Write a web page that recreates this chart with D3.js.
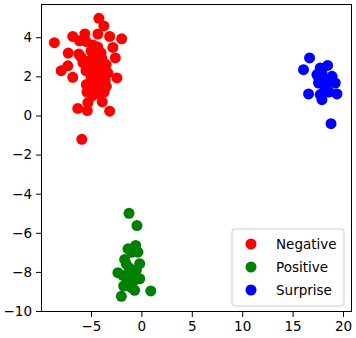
<!DOCTYPE html>
<html>
<head>
<meta charset="utf-8">
<script src="https://cdn.jsdelivr.net/npm/d3@7"></script>
<style>
  body { margin: 0; background: #fff; }
  text { font-family: "DejaVu Sans", sans-serif; }
</style>
</head>
<body>
<div id="chart"></div>
<script>
// data
const seriesNames = ["Negative", "Positive", "Surprise"]
const seriesColors = ["red", "green", "blue"]

const negativeX = [-4.22, -3.72, -8.63, -6.81, -5.61, -4.32, -3.15, -1.96, -6.14, -5.47, -4.32, -2.83, -7.26, -6.21,
  -2.59, -7.30, -7.96, -6.81, -2.43, -3.32, -5.47, -3.48, -5.31, -6.31, -5.37, -3.88, -3.15, -5.91,
  -5.0, -4.5, -4.0, -5.2, -4.7, -4.2, -3.8, -5.5, -5.0, -4.5, -4.0, -3.6, -5.2, -4.6, -4.1, -3.7, -5.4,
  -4.8, -3.9, -4.4, -5.8, -6.0, -3.5, -4.9, -4.3]
const negativeY = [4.97, 4.58, 3.72, 4.04, 4.17, 4.16, 4.04, 3.92, 3.82, 3.78, 3.50, 3.48, 3.19, 3.14,
  2.94, 2.54, 2.29, 1.95, 1.92, 2.17, 1.58, 1.49, 0.65, 0.36, 0.25, 0.70, 0.22, -1.22,
  3.3, 3.0, 3.2, 2.8, 2.5, 2.7, 2.4, 2.3, 2.0, 1.8, 2.0, 1.8, 1.5, 1.3, 1.5, 1.2, 1.2,
  3.6, 2.9, 2.2, 2.7, 3.0, 2.6, 1.0, 1.1]

const positiveX = [-1.23, -0.44, -1.33, -0.57, -0.34, -1.66, -0.17, -2.33, -1.83, -0.84, -0.17, -1.76, -0.67, 0.93, -1.99,
  -1.0, -1.2, -0.8, -1.4, -0.5, -1.0, -1.5]
const positiveY = [-5.00, -5.63, -6.82, -6.65, -6.99, -7.36, -7.58, -8.04, -8.18, -8.09, -8.35, -8.72, -8.94, -8.97, -9.25,
  -7.0, -7.8, -8.5, -8.4, -7.9, -8.8, -7.6]

const surpriseX = [16.68, 16.08, 18.47, 17.74, 17.41, 18.91, 18.07, 19.23, 17.57, 18.41, 16.58, 17.74, 19.40, 17.91, 18.81,
  18.2, 17.9, 18.6, 17.6]
const surpriseY = [2.94, 2.34, 2.56, 2.43, 2.09, 2.00, 1.92, 1.66, 1.66, 1.58, 1.10, 1.07, 1.10, 0.81, -0.42,
  1.3, 2.2, 1.2, 1.9]

const xTicks = [-5, 0, 5, 10, 15, 20]
const yTicks = [-10, -8, -6, -4, -2, 0, 2, 4]

const width = 356, height = 338
const margin = { top: 4, right: 4, bottom: 26, left: 41 }

const series = [
  { name: seriesNames[0], color: seriesColors[0], pts: negativeX.map((x, i) => [x, negativeY[i]]) },
  { name: seriesNames[1], color: seriesColors[1], pts: positiveX.map((x, i) => [x, positiveY[i]]) },
  { name: seriesNames[2], color: seriesColors[2], pts: surpriseX.map((x, i) => [x, surpriseY[i]]) }
]

const x = d3.scaleLinear().domain([-9.96, 20.89]).range([margin.left, width - margin.right])
const y = d3.scaleLinear().domain([-10.05, 5.70]).range([height - margin.bottom, margin.top])

const svg = d3.select('#chart').append('svg')
  .attr('width', width)
  .attr('height', height)

// points
series.forEach(s => {
  svg.append('g')
    .selectAll('circle')
    .data(s.pts)
    .join('circle')
    .attr('cx', d => x(d[0]))
    .attr('cy', d => y(d[1]))
    .attr('r', 5.5)
    .attr('fill', s.color)
})

// axes
const xAxis = svg.append('g')
  .attr('transform', `translate(0,${height - margin.bottom})`)
  .call(d3.axisBottom(x).tickValues(xTicks).tickSize(5).tickPadding(4))
const yAxis = svg.append('g')
  .attr('transform', `translate(${margin.left},0)`)
  .call(d3.axisLeft(y).tickValues(yTicks).tickSize(5).tickPadding(4))

;[xAxis, yAxis].forEach(a => {
  a.select('.domain').remove()
  a.selectAll('line').attr('stroke', '#000').attr('stroke-width', 1)
  a.selectAll('text').attr('font-size', 13.5).attr('fill', '#000')
    .style('font-family', '"DejaVu Sans", sans-serif')
})

// frame
svg.append('rect')
  .attr('x', margin.left + 0.5)
  .attr('y', margin.top + 0.5)
  .attr('width', width - margin.left - margin.right - 1)
  .attr('height', height - margin.top - margin.bottom - 1)
  .attr('fill', 'none')
  .attr('stroke', '#000')
  .attr('stroke-width', 1)

// legend
const legend = svg.append('g').attr('transform', 'translate(232,229)')
legend.append('rect')
  .attr('width', 112)
  .attr('height', 77)
  .attr('rx', 2.5)
  .attr('fill', 'rgba(255,255,255,0.8)')
  .attr('stroke', '#cccccc')
const rows = legend.selectAll('g.row')
  .data(series)
  .join('g')
  .attr('class', 'row')
  .attr('transform', (d, i) => `translate(0,${15 + i * 23})`)
rows.append('circle')
  .attr('cx', 19)
  .attr('cy', 0)
  .attr('r', 5.5)
  .attr('fill', d => d.color)
rows.append('text')
  .attr('x', 44)
  .attr('y', 0)
  .attr('dy', '0.35em')
  .attr('font-size', 13.5)
  .text(d => d.name)
</script>
</body>
</html>
